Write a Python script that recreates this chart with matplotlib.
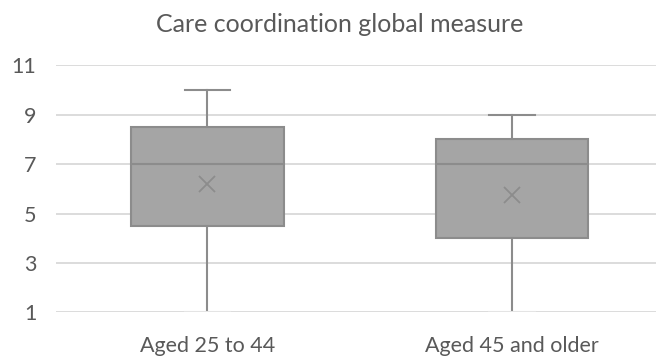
import matplotlib
matplotlib.use("Agg")
import matplotlib.pyplot as plt

# Summary statistics for each age group
categories = ["Aged 25 to 44", "Aged 45 and older"]
whisker_low = [1, 1]
q1 = [4.5, 4]
median = [7, 7]
q3 = [8.5, 8]
whisker_high = [10, 9]
mean = [6.2, 5.75]
y_ticks = [1, 3, 5, 7, 9, 11]

plt.rcParams["font.family"] = ["Lato", "DejaVu Sans"]

fig = plt.figure(figsize=(6.56, 3.58), dpi=100)
ax = fig.add_axes([55.7 / 656, 45.7 / 358, (656 - 55.7) / 656, 0.6899])

stats = []
for i, name in enumerate(categories):
    stats.append(dict(label=name, whislo=whisker_low[i], q1=q1[i], med=median[i],
                      q3=q3[i], whishi=whisker_high[i], mean=mean[i], fliers=[]))

edge = "#8c8c8c"
parts = ax.bxp(stats, positions=[0, 1], widths=0.5, capwidths=0.15, showmeans=True,
               patch_artist=True,
               boxprops=dict(facecolor="#a5a5a5", edgecolor=edge, linewidth=1.5),
               medianprops=dict(color=edge, linewidth=1.5),
               whiskerprops=dict(color=edge, linewidth=1.5),
               capprops=dict(color=edge, linewidth=1.5),
               meanprops=dict(marker="x", markeredgecolor=edge, markersize=11,
                              markeredgewidth=1.3))
# lower caps sit on the axis floor and read faintly
for cap in parts["caps"][0::2]:
    cap.set_color("#e4e4e4")

ax.set_ylim(1, 11)
ax.set_xlim(-0.498, 1.473)
ax.set_yticks(y_ticks)
ax.set_xticks([0, 1])
ax.set_xticklabels(categories)
ax.yaxis.grid(True, color="#d9d9d9", linewidth=1.3)
ax.set_axisbelow(True)
for s in ax.spines.values():
    s.set_visible(False)
ax.tick_params(axis="both", length=0, colors="#595959", labelsize=15.5)
ax.tick_params(axis="y", pad=14)
ax.tick_params(axis="x", pad=17)

fig.text(340 / 656, 1 - 24 / 358, "Care coordination global measure",
         ha="center", va="center", fontsize=18, color="#595959")

fig.savefig("out.png", dpi=100)
